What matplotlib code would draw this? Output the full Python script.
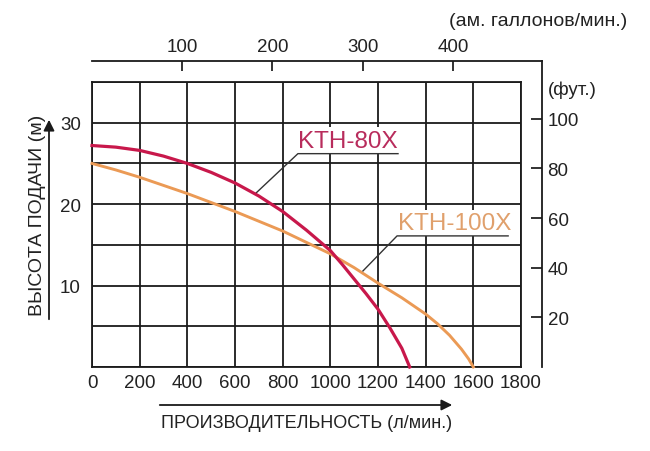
import matplotlib.pyplot as plt

plt.rcParams['font.family'] = ['Liberation Sans Narrow', 'Liberation Sans', 'DejaVu Sans']

# KTH-80X curve (flow l/min, head m)
flow_80 = [0, 100, 200, 300, 400, 500, 600, 700, 800, 900, 1000, 1050, 1100, 1150, 1200, 1250, 1300, 1333]
head_80 = [27.2, 27.0, 26.6, 25.9, 25.0, 23.9, 22.6, 21.0, 19.1, 16.8, 14.3, 12.6, 10.8, 9.0, 7.1, 4.8, 2.3, 0.0]

# KTH-100X curve
flow_100 = [0, 100, 200, 300, 400, 500, 600, 700, 800, 900, 1000, 1100, 1200, 1300, 1400, 1450, 1500, 1550, 1580, 1600]
head_100 = [25.0, 24.2, 23.3, 22.3, 21.3, 20.2, 19.1, 17.9, 16.7, 15.3, 13.9, 12.2, 10.3, 8.5, 6.5, 5.3, 3.9, 2.2, 1.0, 0.0]

x_ticks = [0, 200, 400, 600, 800, 1000, 1200, 1400, 1600, 1800]
y_ticks = [0, 5, 10, 15, 20, 25, 30, 35]
y_labels = ['', '', '10', '', '20', '', '30', '']
gal_ticks = [100, 200, 300, 400]
ft_ticks = [20, 40, 60, 80, 100]

W, H = 650, 452
def box(l, t, r, b):
    return [l / W, 1 - b / H, (r - l) / W, (b - t) / H]

fig = plt.figure(figsize=(6.5, 4.52), dpi=100)

# secondary frame (gallons on top, feet on right)
ax2 = fig.add_axes(box(92, 62, 542, 368))
ax2.patch.set_visible(False)
for s in ['left', 'bottom']:
    ax2.spines[s].set_visible(False)
for s in ['top', 'right']:
    ax2.spines[s].set_linewidth(1.3)
    ax2.spines[s].set_color('#1a1a1a')
ax2.set_xlim(0, 1800 * (450 / 429) / 3.78541)
ax2.set_ylim(0, 35 * (306 / 285) / 0.3048)
ax2.xaxis.tick_top()
ax2.yaxis.tick_right()
ax2.set_xticks(gal_ticks)
ax2.set_yticks(ft_ticks)
ax2.tick_params(axis='x', direction='in', length=7, width=1.3, pad=4, labelsize=13.5, colors='#222222')
ax2.tick_params(axis='y', direction='in', length=8, width=1.3, pad=4, labelsize=13.5, colors='#222222')

# main chart
ax = fig.add_axes(box(92, 83, 521, 368))
ax.patch.set_visible(False)
ax.set_xlim(0, 1800)
ax.set_ylim(0, 35)
ax.set_xticks(x_ticks)
ax.set_yticks(y_ticks)
ax.set_yticklabels(y_labels)
ax.tick_params(length=0, labelsize=13.5, colors='#222222')
ax.tick_params(axis='x', pad=5)
ax.tick_params(axis='y', pad=8)
ax.grid(color='#1a1a1a', lw=1.3)
ax.set_axisbelow(True)
for s in ax.spines.values():
    s.set_linewidth(1.3)
    s.set_color('#1a1a1a')

ax.plot(flow_80, head_80, color='#c8184b', lw=2.3, zorder=4, clip_on=False, solid_joinstyle='round')
ax.plot(flow_100, head_100, color='#eb9a55', lw=2.1, zorder=3, clip_on=False, solid_joinstyle='round')

# labels with leader lines
ax.text(866, 26.45, 'KTH-80X', color='#b82c5c', fontsize=17.5, va='bottom', ha='left', zorder=2,
        bbox=dict(facecolor='white', edgecolor='none', pad=1.5))
ax.plot([684, 864, 1284], [21.25, 26.2, 26.2], color='#333333', lw=1.0, zorder=3)
ax.text(1282, 16.35, 'KTH-100X', color='#e0a06c', fontsize=17.5, va='bottom', ha='left', zorder=2,
        bbox=dict(facecolor='white', edgecolor='none', pad=1.5))
ax.plot([1137, 1280, 1746], [11.8, 16.1, 16.1], color='#333333', lw=1.0, zorder=3)

# units and axis titles
fig.text(627 / W, 1 - 22 / H, '(ам. галлонов/мин.)', ha='right', va='center', fontsize=14, color='#222222')
fig.text(548 / W, 1 - 90 / H, '(фут.)', ha='left', va='center', fontsize=13.5, color='#222222')
fig.text(38 / W, 1 - 215 / H, 'ВЫСОТА ПОДАЧИ (м)', rotation=90, ha='center', va='center',
         fontsize=14, color='#222222')
fig.text(307 / W, 1 - 424 / H, 'ПРОИЗВОДИТЕЛЬНОСТЬ (л/мин.)', ha='center', va='center',
         fontsize=13, color='#222222')
ax.annotate('', xy=(49 / W, 1 - 118 / H), xytext=(49 / W, 1 - 323 / H), xycoords='figure fraction',
            arrowprops=dict(arrowstyle='-|>', color='#1a1a1a', lw=1.3, mutation_scale=16),
            annotation_clip=False)
ax.annotate('', xy=(455 / W, 1 - 406 / H), xytext=(157 / W, 1 - 406 / H), xycoords='figure fraction',
            arrowprops=dict(arrowstyle='-|>', color='#1a1a1a', lw=1.3, mutation_scale=16),
            annotation_clip=False)

fig.savefig('out.png', dpi=100)
